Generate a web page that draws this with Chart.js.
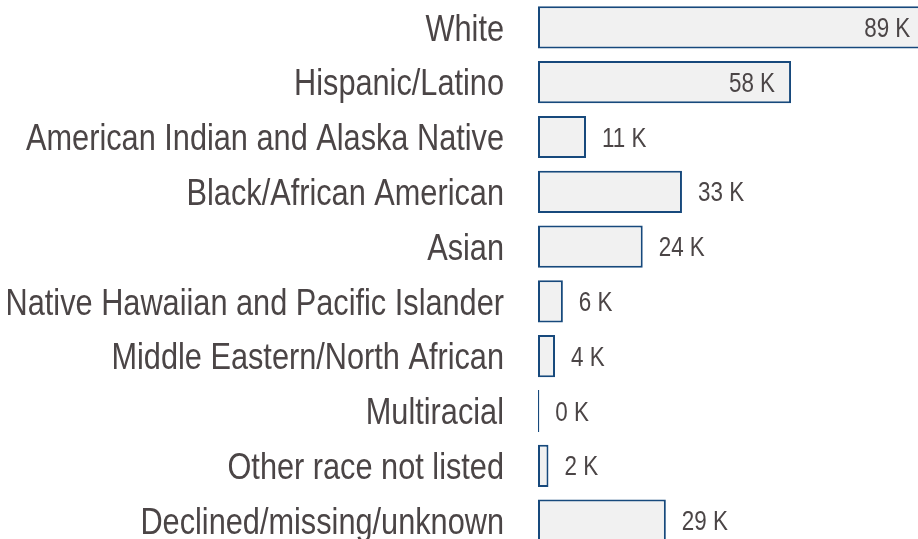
<!DOCTYPE html>
<html>
<head>
<meta charset="utf-8">
<script src="https://cdn.jsdelivr.net/npm/chart.js@4"></script>
<style>
  html, body { margin: 0; padding: 0; background: #fff; overflow: hidden; }
  .wrap { width: 918px; height: 539px; overflow: hidden; }
</style>
</head>
<body>
<div class="wrap"><canvas id="chart" width="918" height="548"></canvas></div>
<script>
// Data
const categories = [
    'White',
    'Hispanic/Latino',
    'American Indian and Alaska Native',
    'Black/African American',
    'Asian',
    'Native Hawaiian and Pacific Islander',
    'Middle Eastern/North African',
    'Multiracial',
    'Other race not listed',
    'Declined/missing/unknown'
];
const counts = [89000, 58000, 11000, 33000, 24000, 5700, 3900, 300, 2400, 29300];

const TEXT = '#4b4546';
const FONT = '"Liberation Sans", Arial, sans-serif';
const NARROW = 0.83; // no narrow face installed, squeeze the regular one
const CAP = 0.716;   // cap height / font size, to center capitals on the bar

const fmtK = (v) => `${Math.round(v / 1000)} K`;

const narrowText = (ctx, text, x, y, size, align) => {
    ctx.save();
    ctx.font = `${size}px ${FONT}`;
    ctx.translate(x, y + size * CAP / 2);
    ctx.scale(NARROW, 1);
    ctx.textAlign = align;
    ctx.textBaseline = 'alphabetic';
    ctx.fillText(text, 0, 0);
    ctx.restore();
};

// category names left of the axis, value labels on the bars
const labels = {
    id: 'labels',
    afterDatasetsDraw(chart) {
        const { ctx } = chart;
        const yScale = chart.scales.y;
        const meta = chart.getDatasetMeta(0);
        const max = Math.max(...counts);
        ctx.save();
        ctx.fillStyle = TEXT;

        categories.forEach((c, i) => {
            narrowText(ctx, c, yScale.right - 34, yScale.getPixelForTick(i), 37, 'right');
        });

        meta.data.forEach((bar, i) => {
            const v = counts[i];
            if (v / max > 0.5) {
                narrowText(ctx, fmtK(v), bar.x - 16, bar.y, 27, 'right');
            } else {
                narrowText(ctx, fmtK(v), bar.x + 16, bar.y, 27, 'left');
            }
        });
        ctx.restore();
    }
};

new Chart(document.getElementById('chart'), {
    type: 'bar',
    data: {
        labels: categories,
        datasets: [{
            data: counts,
            backgroundColor: '#f1f1f1',
            borderColor: '#17497c',
            borderWidth: 2,
            borderSkipped: false,
            barPercentage: 0.77,
            categoryPercentage: 1,
            clip: 0
        }]
    },
    options: {
        indexAxis: 'y',
        responsive: false,
        animation: false,
        layout: { padding: 0 },
        plugins: {
            legend: { display: false },
            tooltip: { enabled: false }
        },
        scales: {
            x: {
                display: false,
                min: 0,
                max: 87100
            },
            y: {
                grid: { display: false, drawTicks: false },
                border: { display: false },
                ticks: { display: false },
                afterFit(scale) {
                    scale.width = 538;
                    scale.paddingTop = 0;
                    scale.paddingBottom = 0;
                }
            }
        }
    },
    plugins: [labels]
});
</script>
</body>
</html>
